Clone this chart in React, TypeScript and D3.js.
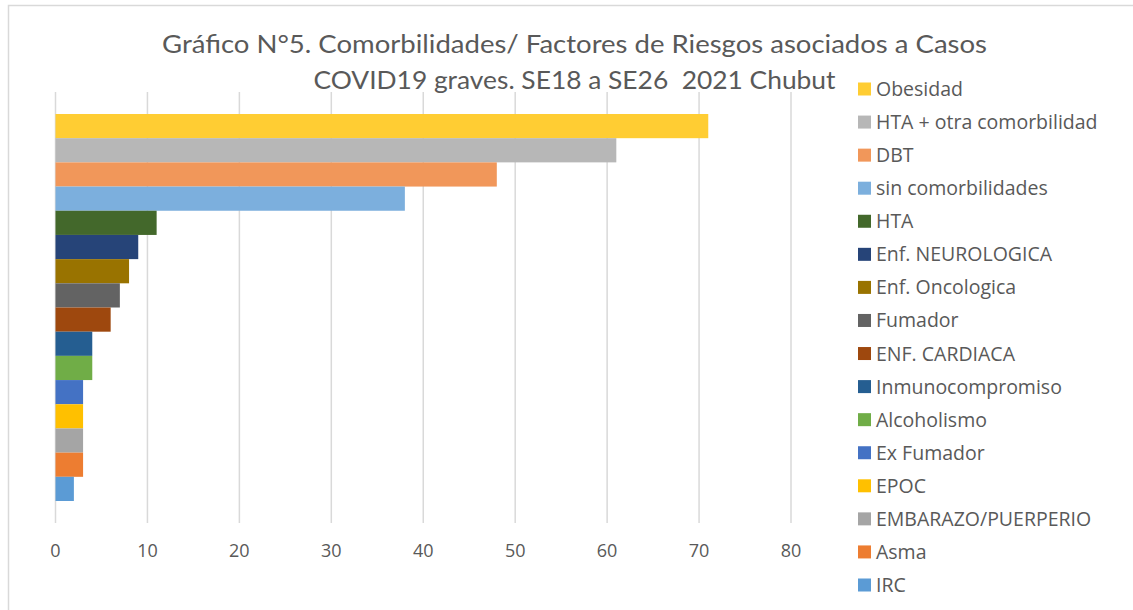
import * as d3 from 'd3';

// categories top to bottom, as in the chart
const categories = [
  'Obesidad',
  'HTA + otra comorbilidad',
  'DBT',
  'sin comorbilidades',
  'HTA',
  'Enf. NEUROLOGICA',
  'Enf. Oncologica',
  'Fumador',
  'ENF. CARDIACA',
  'Inmunocompromiso',
  'Alcoholismo',
  'Ex Fumador',
  'EPOC',
  'EMBARAZO/PUERPERIO',
  'Asma',
  'IRC',
];
const values = [71, 61, 48, 38, 11, 9, 8, 7, 6, 4, 4, 3, 3, 3, 3, 2];
const colors = [
  '#FFCD33', '#B7B7B7', '#F1975A', '#7CAFDD', '#43682B', '#264478',
  '#997300', '#636363', '#9E480E', '#255E91', '#70AD47', '#4472C4',
  '#FFC000', '#A5A5A5', '#ED7D31', '#5B9BD5',
];
const xTicks = [0, 10, 20, 30, 40, 50, 60, 70, 80];
const titleLines = [
  'Gráfico N°5. Comorbilidades/ Factores de Riesgos asociados a Casos',
  'COVID19 graves. SE18 a SE26  2021 Chubut',
];

const W = 1133;
const H = 610;
const textColor = '#595959';
const titleFont = 'Lato, "Open Sans", sans-serif';
const font = '"Open Sans", Lato, sans-serif';

export default function App() {
  const x = d3.scaleLinear().domain([0, 80]).range([55.5, 791]);
  const plotTop = 92;
  const plotBottom = 523;
  const y = d3.scaleBand<string>().domain(categories).range([114, 501]).paddingInner(0);
  const legendY = d3.scalePoint<string>().domain(categories).range([89, 585]);

  return (
    <svg width={W} height={H} style={{ position: 'absolute', left: 0, top: 0, background: '#fff' }}>
      <rect x={8.5} y={5.5} width={W + 40} height={H + 40} fill="#fff" stroke="#D9D9D9" strokeWidth={1.5} />

      {/* title */}
      {titleLines.map((t, i) => (
        <text
          key={i}
          x={574.5}
          y={53 + i * 36}
          textAnchor="middle"
          fontFamily={titleFont}
          fontSize={25}
          fill={textColor}
          textLength={i === 0 ? 825 : 522}
          lengthAdjust="spacingAndGlyphs"
          style={{ whiteSpace: 'pre' }}
        >
          {t}
        </text>
      ))}

      {/* gridlines */}
      {xTicks.map(t => (
        <line key={t} x1={x(t)} x2={x(t)} y1={plotTop} y2={plotBottom} stroke="#D9D9D9" strokeWidth={1.5} />
      ))}

      {/* bars */}
      {categories.map((c, i) => (
        <rect key={c} x={x(0)} y={y(c)} width={x(values[i]) - x(0)} height={y.bandwidth()} fill={colors[i]} />
      ))}

      {/* x tick labels */}
      {xTicks.map(t => (
        <text key={t} x={x(t)} y={557} textAnchor="middle" fontFamily={font} fontSize={18} fill={textColor}>
          {t}
        </text>
      ))}

      {/* legend */}
      {categories.map((c, i) => (
        <g key={c} transform={`translate(858,${legendY(c)})`}>
          <rect x={0} y={-6.5} width={13} height={13} fill={colors[i]} />
          <text x={18} y={7} fontFamily={font} fontSize={19.5} fill={textColor}>
            {c}
          </text>
        </g>
      ))}
    </svg>
  );
}
